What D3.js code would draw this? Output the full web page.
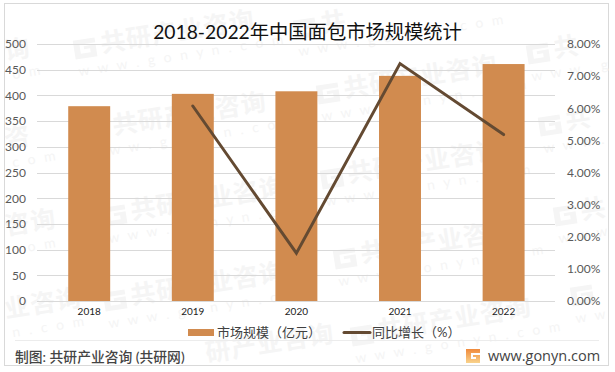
<!DOCTYPE html>
<html>
<head>
<meta charset="utf-8">
<script src="https://cdn.jsdelivr.net/npm/d3@7"></script>
<style>
  html, body { margin: 0; padding: 0; background: #fff; }
  svg { display: block; }
  text { font-family: Lato, "Noto Sans CJK SC", sans-serif; }
</style>
</head>
<body>
<svg id="chart" width="615" height="372"></svg>
<script>
/*Data*/
var years = ["2018", "2019", "2020", "2021", "2022"];
var marketSize = [379, 403, 408, 438, 461];
var growth = [null, 6.07, 1.49, 7.39, 5.18];
var leftTicks = [0, 50, 100, 150, 200, 250, 300, 350, 400, 450, 500];
var rightTicks = [0, 1, 2, 3, 4, 5, 6, 7, 8];
var titleText = "2018-2022年中国面包市场规模统计";
var legendBar = "市场规模（亿元）";
var legendLine = "同比增长（%）";
var sourceText = "制图: 共研产业咨询 (共研网)";
var siteText = "www.gonyn.com";
var wmName = "共研产业咨询";
var wmSite = "w w w . g o n y n . c o m";

var svg = d3.select("#chart");
var barColor = "#d18b4f", lineColor = "#644a32", wmColor = "#f5f5f5";

/*Scales*/
var x = d3.scaleBand().domain(years).range([37.4, 555.4]).paddingInner(0.595).paddingOuter(0.2975);
var yL = d3.scaleLinear().domain([0, 500]).range([301, 44]);
var yR = d3.scaleLinear().domain([0, 8]).range([301, 44]);

/*Frame*/
svg.append("rect").attr("x", 4.5).attr("y", 3.5).attr("width", 604).attr("height", 362)
  .attr("fill", "#fff").attr("stroke", "#d9d9d9").attr("stroke-width", 1);

/*Watermark*/
var wmLayer = svg.append("g").attr("id", "watermark");
function watermark(px, py, name, site) {
  var g = wmLayer.append("g").attr("transform", "translate(" + px + "," + py + ") rotate(-9)");
  g.append("path").attr("d", "M-11,-9 L11,-9 L11,-4 L-5,-4 L-5,5 L5,5 L5,1 L-1,1 L-1,-2 L11,-2 L11,10 L-11,10 Z")
    .attr("fill", wmColor);
  g.append("text").attr("x", 16).attr("y", 7).attr("font-size", 25).attr("font-weight", 700)
    .attr("letter-spacing", 1).attr("fill", wmColor).text(name);
  g.append("text").attr("x", -10).attr("y", 27).attr("font-size", 14)
    .attr("letter-spacing", 2.6).attr("fill", wmColor).text(site);
}
function wmPiece(px, py, name, site) {
  var g = wmLayer.append("g").attr("transform", "translate(" + px + "," + py + ") rotate(-9)");
  g.append("text").attr("font-size", 25).attr("font-weight", 700)
    .attr("letter-spacing", 1).attr("fill", wmColor).text(name);
  g.append("text").attr("x", 4).attr("y", 20).attr("font-size", 14)
    .attr("letter-spacing", 2.6).attr("fill", wmColor).text(site);
}
watermark(85, 48, wmName, wmSite);
watermark(97, 130, wmName, wmSite);
watermark(115, 215, wmName, wmSite);
watermark(115, 300, wmName, wmSite);
watermark(328, 93, wmName, wmSite);
watermark(332, 178, wmName, wmSite);
watermark(345, 258, wmName, wmSite);
watermark(362, 335, wmName, wmSite);
watermark(305, 28, "共", wmSite);
watermark(538, 53, "共", "w w w . g");
watermark(550, 125, "共", "w w w .");
watermark(565, 215, "共", "w w w");
watermark(582, 295, "", "w w");
wmPiece(6, 60, "询", "o m");
wmPiece(6, 148, "咨", "c o m");
wmPiece(6, 235, "咨询", "c o m");
wmPiece(6, 318, "业咨询", "n . c o m");
wmPiece(207, 362, "研产业咨询", "");

/*Gridlines*/
svg.append("g").selectAll("line").data(leftTicks).join("line")
  .attr("x1", 37).attr("x2", 555)
  .attr("y1", function(d) { return Math.round(yL(d)) + 0.5; })
  .attr("y2", function(d) { return Math.round(yL(d)) + 0.5; })
  .attr("stroke", "#d9d9d9").attr("stroke-width", 1);

/*Bars*/
svg.append("g").selectAll("rect").data(marketSize).join("rect")
  .attr("x", function(d, i) { return x(years[i]); })
  .attr("width", x.bandwidth())
  .attr("y", function(d) { return yL(d); })
  .attr("height", function(d) { return yL(0) - yL(d); })
  .attr("fill", barColor);

/*Line*/
var line = d3.line()
  .defined(function(d) { return d !== null; })
  .x(function(d, i) { return x(years[i]) + x.bandwidth() / 2; })
  .y(function(d) { return yR(d); });
svg.append("path").datum(growth).attr("d", line)
  .attr("fill", "none").attr("stroke", lineColor).attr("stroke-width", 3).attr("stroke-linecap", "round");

/*Axes*/
var axisL = svg.append("g").attr("transform", "translate(26,0)")
  .call(d3.axisLeft(yL).tickValues(leftTicks).tickSize(0).tickPadding(0));
var axisR = svg.append("g").attr("transform", "translate(567,0)")
  .call(d3.axisRight(yR).tickValues(rightTicks).tickSize(0).tickPadding(0)
    .tickFormat(function(d) { return d.toFixed(2) + "%"; }));
var axisB = svg.append("g").attr("transform", "translate(0,301)")
  .call(d3.axisBottom(x).tickSize(0).tickPadding(7));
[axisL, axisR, axisB].forEach(function(a) { a.select(".domain").remove(); });
axisL.selectAll("text").attr("font-size", 12).attr("fill", "#595959").style("font-family", "Lato");
axisR.selectAll("text").attr("font-size", 12).attr("fill", "#595959").style("font-family", "Lato");
axisB.selectAll("text").attr("font-size", 10).attr("fill", "#222").style("font-family", "Lato");

/*Title*/
svg.append("text").attr("x", 307.5).attr("y", 38.5).attr("text-anchor", "middle")
  .attr("font-size", 19.3).attr("fill", "#111").text(titleText);

/*Legend*/
svg.append("rect").attr("x", 188).attr("y", 329).attr("width", 26).attr("height", 7).attr("fill", barColor);
svg.append("text").attr("x", 217).attr("y", 337).attr("font-size", 13).attr("fill", "#404040").text(legendBar);
svg.append("line").attr("x1", 344).attr("x2", 370).attr("y1", 332.5).attr("y2", 332.5)
  .attr("stroke", lineColor).attr("stroke-width", 3).attr("stroke-linecap", "round");
svg.append("text").attr("x", 372).attr("y", 337).attr("font-size", 13).attr("fill", "#404040").text(legendLine);

/*Footer*/
svg.append("line").attr("x1", 15).attr("x2", 599).attr("y1", 340.5).attr("y2", 340.5)
  .attr("stroke", "#ececec").attr("stroke-width", 1);
svg.append("text").attr("x", 15).attr("y", 362).attr("font-size", 13.8).attr("font-weight", 500)
  .attr("fill", "#444").text(sourceText);
var grad = svg.append("defs").append("linearGradient").attr("id", "logoGrad")
  .attr("x1", 0).attr("x2", 0).attr("y1", 0).attr("y2", 1);
grad.append("stop").attr("offset", 0).attr("stop-color", "#f08a3c");
grad.append("stop").attr("offset", 1).attr("stop-color", "#f9d38c");
svg.append("path").attr("transform", "translate(473,356)")
  .attr("d", "M-7,-7 L7,-7 L7,-3 L-2,-3 L-2,3 L3,3 L3,1 L0,1 L0,-1 L7,-1 L7,7 L-7,7 Z")
  .attr("fill", "url(#logoGrad)");
svg.append("text").attr("x", 488).attr("y", 361).attr("font-size", 14.5).attr("fill", "#444")
  .style("font-family", "'Open Sans'").text(siteText);
</script>
</body>
</html>
